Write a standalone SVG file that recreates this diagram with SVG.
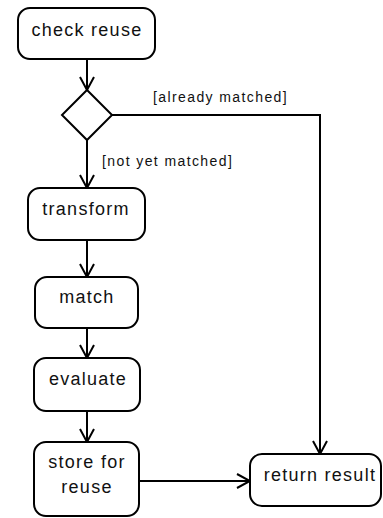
<svg xmlns="http://www.w3.org/2000/svg" width="383" height="518" viewBox="0 0 383 518">
  <defs>
    <marker id="open-arrow" viewBox="0 0 16 16" refX="14" refY="8" markerWidth="16" markerHeight="16" markerUnits="userSpaceOnUse" orient="auto">
      <path d="M1,1 L14,8 L1,15" fill="none" stroke="#000" stroke-width="2"/>
    </marker>
    <style>
      .node { fill: #fff; stroke: #000; stroke-width: 2; }
      .label { font-family: "Liberation Sans", Arial, sans-serif; font-size: 18px; letter-spacing: 1.25px; fill: #111; text-anchor: middle; }
      .guard { font-family: "Liberation Sans", Arial, sans-serif; font-size: 14px; letter-spacing: 1.4px; fill: #111; }
      .edge { fill: none; stroke: #000; stroke-width: 2; }
    </style>
  </defs>
  <rect width="383" height="518" fill="#fff"/>

  <g id="connectors">
    <line class="edge" x1="87" y1="59" x2="87" y2="90" marker-end="url(#open-arrow)"/>
    <line class="edge" x1="87" y1="140" x2="87" y2="188" marker-end="url(#open-arrow)"/>
    <line class="edge" x1="87" y1="240" x2="87" y2="277" marker-end="url(#open-arrow)"/>
    <line class="edge" x1="87" y1="328" x2="87" y2="358" marker-end="url(#open-arrow)"/>
    <line class="edge" x1="87" y1="411" x2="87" y2="442" marker-end="url(#open-arrow)"/>
    <line class="edge" x1="139" y1="481" x2="250" y2="481" marker-end="url(#open-arrow)"/>
    <polyline class="edge" points="112,115 320,115 320,454" marker-end="url(#open-arrow)"/>
    <text class="guard" x="153" y="102">[already matched]</text>
    <text class="guard" x="102" y="166">[not yet matched]</text>
  </g>

  <g id="check-reuse">
    <rect class="node" x="18" y="8" width="137" height="51" rx="12"/>
    <text class="label" x="87" y="36">check reuse</text>
  </g>

  <g id="decision">
    <polygon class="node" points="87,90 112,115 87,140 62,115"/>
  </g>

  <g id="transform">
    <rect class="node" x="28" y="188" width="117" height="52" rx="12"/>
    <text class="label" x="86" y="215">transform</text>
  </g>

  <g id="match">
    <rect class="node" x="35" y="277" width="103" height="51" rx="12"/>
    <text class="label" x="87" y="303">match</text>
  </g>

  <g id="evaluate">
    <rect class="node" x="34" y="358" width="106" height="53" rx="12"/>
    <text class="label" x="88" y="385">evaluate</text>
  </g>

  <g id="store-for-reuse">
    <rect class="node" x="34" y="442" width="105" height="74" rx="12"/>
    <text class="label" x="87" y="468">store for</text>
    <text class="label" x="87" y="493">reuse</text>
  </g>

  <g id="return-result">
    <rect class="node" x="250" y="454" width="131" height="52" rx="12"/>
    <text class="label" x="320" y="481">return result</text>
  </g>
</svg>
